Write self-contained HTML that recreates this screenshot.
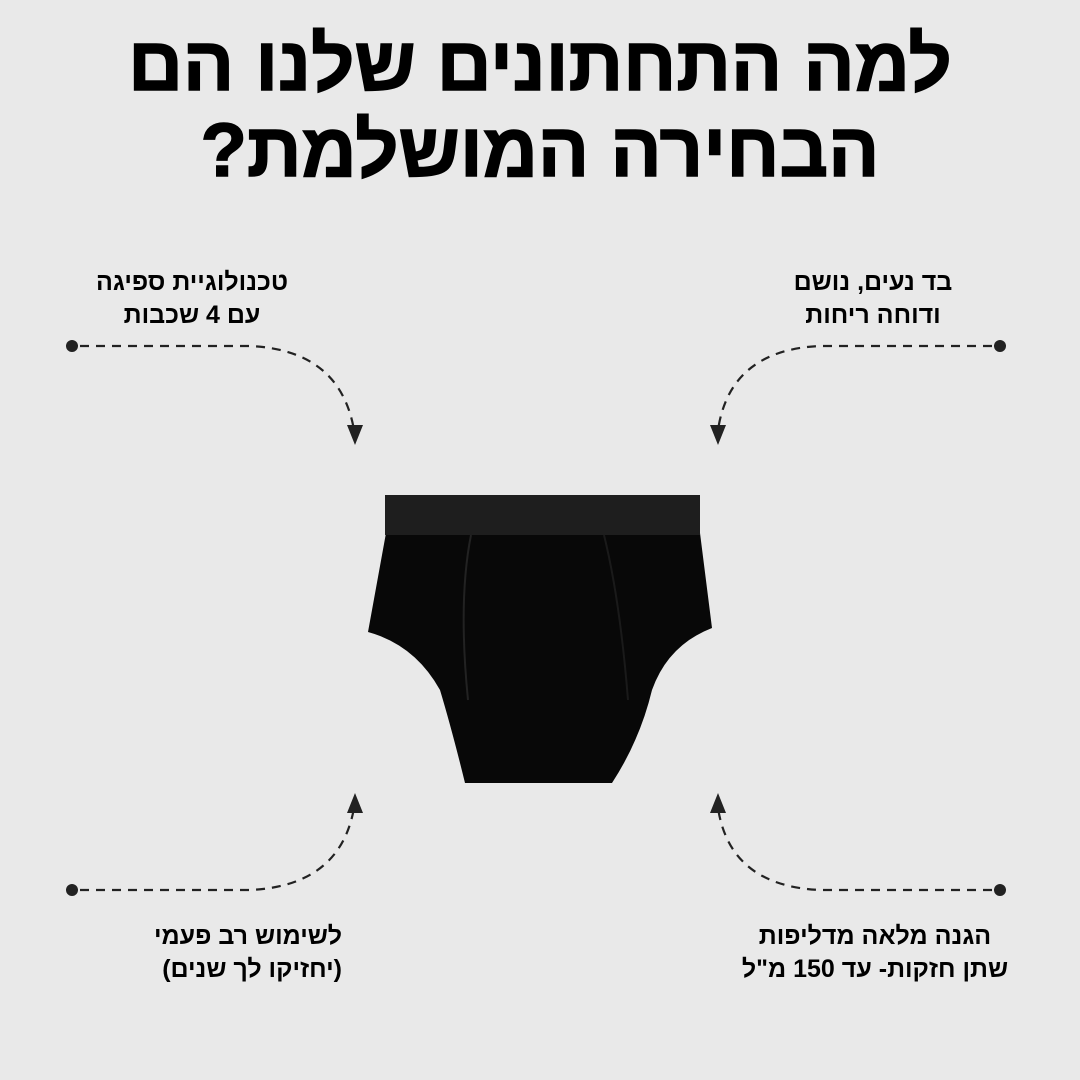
<!DOCTYPE html>
<html><head><meta charset="utf-8"><style>
html,body{margin:0;padding:0;background:#e9e9e9;}
body{width:1080px;height:1080px;overflow:hidden;position:relative;font-family:"Liberation Sans","Noto Sans CJK SC",sans-serif;}
.t{position:absolute;direction:rtl;font-weight:bold;color:#000;text-align:center;white-space:nowrap;}
</style></head><body>
<div class="t" style="left:0;width:1080px;top:22px;font-size:76px;line-height:86px;-webkit-text-stroke:1.5px #000;">למה התחתונים שלנו הם<br>הבחירה המושלמת?</div>
<div class="t" style="left:62px;width:260px;top:266px;font-size:25px;line-height:33px;">טכנולוגיית ספיגה<br>עם 4 שכבות</div>
<div class="t" style="left:743px;width:260px;top:266px;font-size:25px;line-height:33px;">בד נעים, נושם<br>ודוחה ריחות</div>
<div class="t" style="left:100px;width:242px;top:920px;font-size:25px;line-height:33px;text-align:right;">לשימוש רב פעמי<br>(יחזיקו לך שנים)</div>
<div class="t" style="left:715px;width:320px;top:920px;font-size:25px;line-height:33px;">הגנה מלאה מדליפות<br>שתן חזקות- עד 150 מ"ל</div>
<svg width="1080" height="1080" style="position:absolute;left:0;top:0">
<g fill="none" stroke="#222" stroke-width="2.2" stroke-dasharray="9,7">
<path d="M80 346 L250 346 Q340 350 354 430"/>
<path d="M992 346 L820 346 Q730 350 718 430"/>
<path d="M80 890 L250 890 Q340 886 354 808"/>
<path d="M992 890 L820 890 Q730 886 718 808"/>
</g>
<g fill="#222">
<circle cx="72" cy="346" r="6"/><circle cx="1000" cy="346" r="6"/>
<circle cx="72" cy="890" r="6"/><circle cx="1000" cy="890" r="6"/>
<path d="M347 425 L363 425 L355 445 Z"/><path d="M710 425 L726 425 L718 445 Z"/>
<path d="M347 813 L363 813 L355 793 Z"/><path d="M710 813 L726 813 L718 793 Z"/>
</g>
<path d="M386 533 L700 533 L712 628 Q668 645 652 690 Q640 740 612 783 L465 783 Q452 730 440 690 Q415 645 368 632 Z" fill="#080808"/>
<rect x="385" y="495" width="315" height="40" fill="#1e1e1e"/>
<path d="M471 535 Q458 600 468 700" stroke="#222" stroke-width="2" fill="none"/>
<path d="M604 535 Q620 600 628 700" stroke="#1a1a1a" stroke-width="2" fill="none"/>
</svg>
</body></html>
